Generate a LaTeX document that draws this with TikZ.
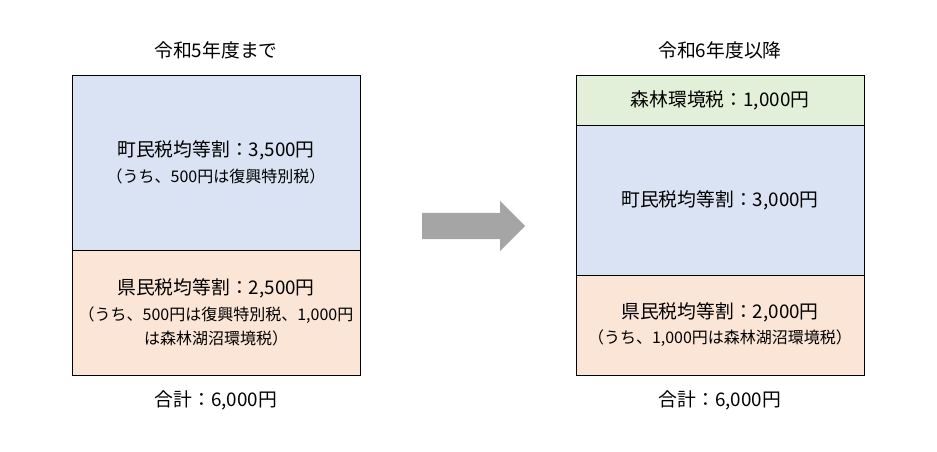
\documentclass[tikz,border=0pt]{standalone}
\usepackage{fontspec}
\usepackage{xcolor}
\usetikzlibrary{positioning, shapes.arrows}
\setmainfont{Noto Sans CJK JP}
\definecolor{choblue}{HTML}{DAE3F3}
\definecolor{kenpeach}{HTML}{FBE5D6}
\definecolor{morigreen}{HTML}{E2F0D9}
\definecolor{arrowgray}{HTML}{A5A5A5}
\newcommand{\mainfs}{\fontsize{18.8}{22}\selectfont}
\newcommand{\subfs}{\fontsize{16}{24}\selectfont}
\tikzset{
  taxbox/.style={
    draw=black, line width=0.8pt, rectangle,
    minimum width=288pt, inner sep=0pt,
    align=center, font=\mainfs
  },
  heading/.style={font=\mainfs, inner sep=0pt},
}

\begin{document}
\begin{tikzpicture}[x=1pt, y=-1pt]
  \useasboundingbox (0,0) rectangle (937,451);

  % before
  \node[heading] (ltitle) at (216,50) {令和5年度まで};
  \node[taxbox, fill=choblue, minimum height=175pt] (lcho) at (216,162.5)
    {町民税均等割：3,500円\\[4pt]{\subfs （うち、500円は復興特別税）}};
  \node[taxbox, fill=kenpeach, minimum height=125pt] (lken) at (216,312.5)
    {県民税均等割：2,500円\\[4pt]{\subfs （うち、500円は復興特別税、1,000円}\\[2pt]{\subfs は森林湖沼環境税）}};
  \node[heading] (ltotal) at (216,400) {合計：6,000円};

  \node[single arrow, fill=arrowgray, draw=none,
        inner xsep=0pt, inner ysep=13pt,
        minimum height=103pt,
        single arrow head extend=12pt, anchor=tail] (arrow) at (422,226) {};

  % after
  \node[heading] (rtitle) at (720,50) {令和6年度以降};
  \node[taxbox, fill=morigreen, minimum height=50pt] (rmori) at (720,100)
    {森林環境税：1,000円};
  \node[taxbox, fill=choblue, minimum height=150pt] (rcho) at (720,200)
    {町民税均等割：3,000円};
  \node[taxbox, fill=kenpeach, minimum height=100pt] (rken) at (720,325)
    {県民税均等割：2,000円\\[3pt]{\subfs （うち、1,000円は森林湖沼環境税）}};
  \node[heading] (rtotal) at (720,400) {合計：6,000円};
\end{tikzpicture}
\end{document}
